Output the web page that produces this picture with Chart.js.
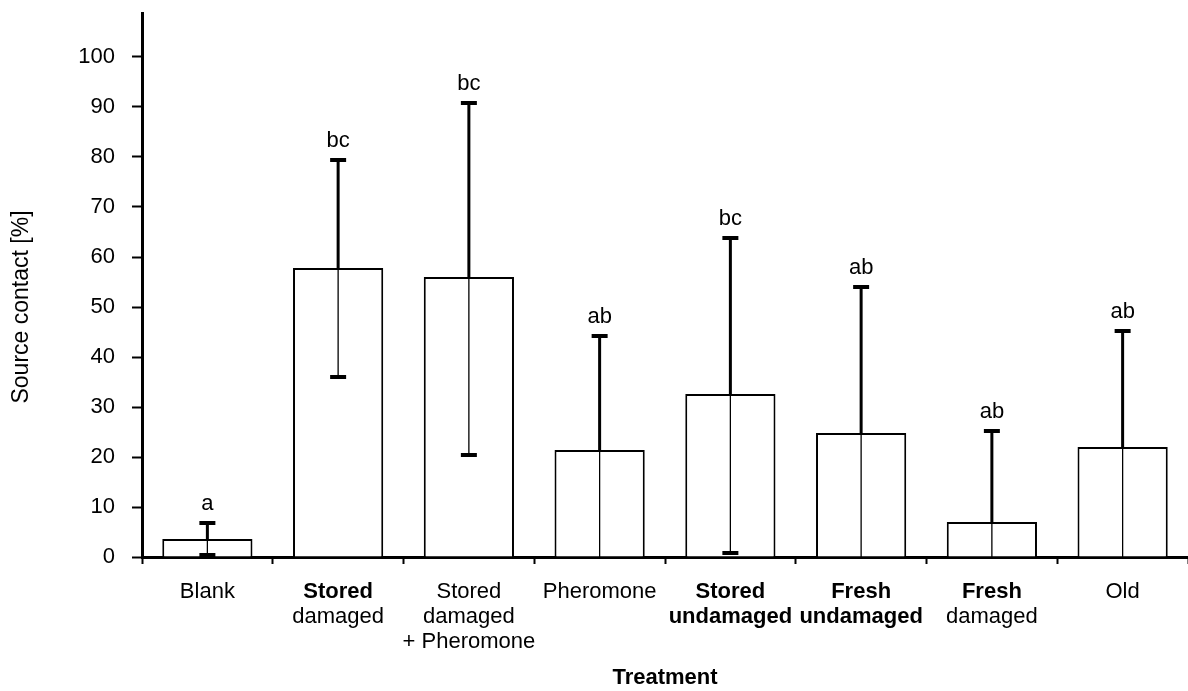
<!DOCTYPE html>
<html>
<head>
<meta charset="utf-8">
<script src="https://cdn.jsdelivr.net/npm/chart.js@4.4.1/dist/chart.umd.min.js"></script>
<style>
  body { margin: 0; background: #fff; }
  #wrap { width: 1188px; height: 691px; }
</style>
</head>
<body>
<div id="wrap"><canvas id="myChart"></canvas></div>
<script>
"use strict";

// data
var categories = ["Blank", "Stored damaged", "Stored damaged + Pheromone", "Pheromone",
    "Stored undamaged", "Fresh undamaged", "Fresh damaged", "Old"];
var labelLines = [
    ["Blank"],
    ["Stored", "damaged"],
    ["Stored", "damaged", "+ Pheromone"],
    ["Pheromone"],
    ["Stored", "undamaged"],
    ["Fresh", "undamaged"],
    ["Fresh", "damaged"],
    ["Old"]
];
var labelBold = [
    [false],
    [true, false],
    [false, false, false],
    [false],
    [true, true],
    [true, true],
    [true, false],
    [false]
];
var means = [3.6, 57.8, 56.0, 21.4, 32.6, 24.8, 7.0, 22.0];
var upper = [6.8, 79.4, 90.8, 44.2, 63.8, 54.0, 25.2, 45.2];
var lower = [0.4, 36.0, 20.4, 0, 0.8, 0, 0, 0];
var letters = ["a", "bc", "bc", "ab", "bc", "ab", "ab", "ab"];
var yTicks = [0, 10, 20, 30, 40, 50, 60, 70, 80, 90, 100];
var yTitle = "Source contact [%]";

var FONT = "'Liberation Sans', Arial, sans-serif";

var errorBars = {
    id: 'errorBars',
    afterDatasetsDraw: function(chart) {
        var ctx = chart.ctx;
        var xs = chart.scales.x, ys = chart.scales.y;
        ctx.save();
        ctx.strokeStyle = '#000';
        ctx.lineCap = 'butt';
        for (var i = 0; i < means.length; i++) {
            var x = xs.getPixelForValue(i);
            var yM = ys.getPixelForValue(means[i]);
            var yU = ys.getPixelForValue(upper[i]);
            var yL = ys.getPixelForValue(lower[i]);
            // thin line inside the bar
            ctx.lineWidth = 1.3;
            ctx.beginPath();
            ctx.moveTo(x, yM);
            ctx.lineTo(x, yL);
            ctx.stroke();
            // thick upper whisker
            ctx.lineWidth = 3;
            ctx.beginPath();
            ctx.moveTo(x, yM);
            ctx.lineTo(x, yU);
            ctx.stroke();
            ctx.lineWidth = 4;
            ctx.beginPath();
            ctx.moveTo(x - 8, yU);
            ctx.lineTo(x + 8, yU);
            ctx.stroke();
            if (lower[i] > 0) {
                ctx.beginPath();
                ctx.moveTo(x - 8, yL);
                ctx.lineTo(x + 8, yL);
                ctx.stroke();
            }
            // significance letters
            ctx.fillStyle = '#000';
            ctx.font = '22px ' + FONT;
            ctx.textAlign = 'center';
            ctx.textBaseline = 'bottom';
            ctx.fillText(letters[i], x, yU - 8);
        }
        // category labels with mixed weights
        ctx.textBaseline = 'middle';
        for (var j = 0; j < labelLines.length; j++) {
            var cx = xs.getPixelForValue(j);
            for (var k = 0; k < labelLines[j].length; k++) {
                ctx.font = (labelBold[j][k] ? 'bold ' : '') + '22px ' + FONT;
                ctx.fillText(labelLines[j][k], cx, ys.bottom + 35 + k * 25);
            }
        }
        // y title, centred on the 0-100 range
        ctx.translate(22, ys.getPixelForValue(50));
        ctx.rotate(-Math.PI / 2);
        ctx.font = '23px ' + FONT;
        ctx.fillText(yTitle, 0, 0);
        ctx.restore();
    }
};

var ctx1 = document.getElementById("myChart").getContext('2d');
var myChart = new Chart(ctx1, {
    type: 'bar',
    data: {
        labels: categories,
        datasets: [{
            data: means,
            backgroundColor: '#fff',
            borderColor: '#000',
            borderWidth: 2,
            barPercentage: 0.69,
            categoryPercentage: 1.0,
            label: 'Source contact'
        }]
    },
    options: {
        responsive: true,
        maintainAspectRatio: false,
        animation: false,
        layout: { padding: { top: 13, right: 0, left: 0, bottom: 0 } },
        plugins: {
            legend: { display: false },
            tooltip: { enabled: false }
        },
        scales: {
            x: {
                z: 1,
                afterFit: function(scale) { scale.height = 134; },
                grid: {
                    offset: true,
                    drawOnChartArea: false,
                    drawTicks: true,
                    tickLength: 7,
                    tickWidth: 2,
                    tickColor: '#000'
                },
                border: { color: '#000', width: 3 },
                ticks: {
                    autoSkip: false,
                    maxRotation: 0,
                    callback: function() { return ''; }
                },
                title: {
                    display: true,
                    text: 'Treatment',
                    color: '#000',
                    font: { family: FONT, size: 22, weight: 'bold' },
                    padding: { top: 0, bottom: 0 }
                }
            },
            y: {
                z: 1,
                min: 0,
                max: 108.8,
                afterFit: function(scale) {
                    scale.width = 142;
                    scale.paddingTop = 0;
                    scale.paddingBottom = 0;
                },
                afterBuildTicks: function(scale) {
                    scale.ticks = yTicks.map(function(v) { return { value: v }; });
                },
                grid: {
                    drawOnChartArea: false,
                    drawTicks: true,
                    tickLength: 10,
                    tickWidth: 2,
                    tickColor: '#000'
                },
                border: { color: '#000', width: 3 },
                ticks: {
                    color: '#000',
                    padding: 17,
                    font: { family: FONT, size: 22 }
                }
            }
        }
    },
    plugins: [errorBars]
});
</script>
</body>
</html>
